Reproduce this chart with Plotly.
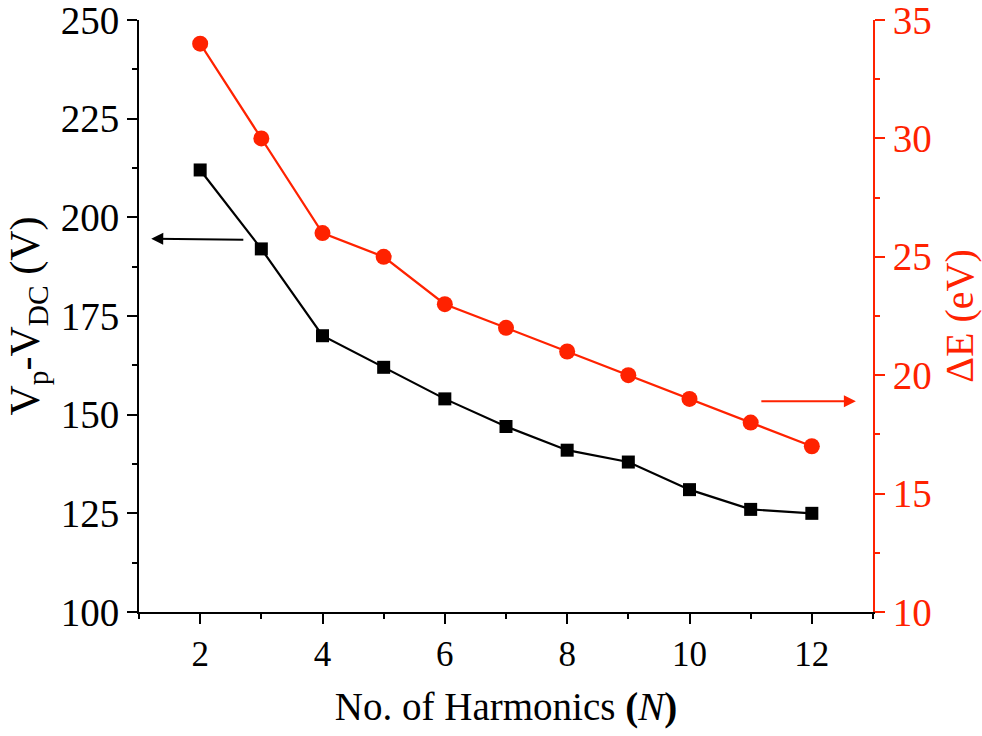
import plotly.graph_objects as go

harmonics = [2, 3, 4, 5, 6, 7, 8, 9, 10, 11, 12]
vp_vdc = [212, 192, 170, 162, 154, 147, 141, 138, 131, 126, 125]
delta_e = [34, 30, 26, 25, 23, 22, 21, 20, 19, 18, 17]

x_ticks = [2, 4, 6, 8, 10, 12]
y_left_ticks = [100, 125, 150, 175, 200, 225, 250]
y_right_ticks = [10, 15, 20, 25, 30, 35]

RED = "#ff2200"
FONT = "Liberation Serif"

fig = go.Figure()
fig.add_trace(go.Scatter(
    x=harmonics, y=vp_vdc, mode="lines+markers",
    line=dict(color="black", width=2.2),
    marker=dict(symbol="square", size=13, color="black"),
    yaxis="y", showlegend=False))
fig.add_trace(go.Scatter(
    x=harmonics, y=delta_e, mode="lines+markers",
    line=dict(color=RED, width=2.2),
    marker=dict(symbol="circle", size=16, color=RED),
    yaxis="y2", showlegend=False))

# arrows pointing to each axis
fig.add_annotation(x=1.2, y=194.6, ax=2.73, ay=194.3, xref="x", yref="y",
                   axref="x", ayref="y", showarrow=True, text="",
                   arrowhead=2, arrowsize=1.2, arrowwidth=2, arrowcolor="black")
fig.add_annotation(x=12.72, y=18.9, ax=11.15, ay=18.9, xref="x", yref="y2",
                   axref="x", ayref="y2", showarrow=True, text="",
                   arrowhead=2, arrowsize=1.2, arrowwidth=2, arrowcolor=RED)

fig.update_layout(
    width=982, height=736,
    margin=dict(l=139, r=109, t=20, b=124, autoexpand=False),
    paper_bgcolor="white", plot_bgcolor="white",
    font=dict(family=FONT, color="black"),
    xaxis=dict(
        range=[1, 13], tickvals=x_ticks, showgrid=False, zeroline=False, automargin=False,
        showline=True, linecolor="black", linewidth=2,
        ticks="outside", ticklen=10, tickwidth=2, tickcolor="black",
        minor=dict(dtick=1, tick0=1, ticks="outside", ticklen=5, tickwidth=2, tickcolor="black"),
        tickfont=dict(size=35, family=FONT),
        title=dict(text="No. of Harmonics <b>(</b><i>N</i><b>)</b>", font=dict(size=39, family=FONT), standoff=20),
    ),
    yaxis=dict(
        range=[100, 250], tickvals=y_left_ticks, showgrid=False, zeroline=False, automargin=False,
        showline=True, linecolor="black", linewidth=2,
        ticks="outside", ticklen=10, tickwidth=2, tickcolor="black",
        minor=dict(dtick=12.5, tick0=100, ticks="outside", ticklen=5, tickwidth=2, tickcolor="black"),
        tickfont=dict(size=39, family=FONT), ticklabeloverflow="allow",
        title=dict(text="V<sub>p</sub>-V<sub>DC</sub> (V)", font=dict(size=42, family=FONT), standoff=8),
    ),
    yaxis2=dict(
        range=[10, 35], tickvals=y_right_ticks, overlaying="y", side="right", automargin=False,
        showgrid=False, zeroline=False,
        showline=True, linecolor=RED, linewidth=2,
        ticks="outside", ticklen=10, tickwidth=2, tickcolor=RED,
        minor=dict(dtick=2.5, tick0=10, ticks="outside", ticklen=5, tickwidth=2, tickcolor=RED),
        tickfont=dict(size=39, family=FONT, color=RED), ticklabeloverflow="allow",
        title=dict(text="ΔE (eV)", font=dict(size=40, family=FONT, color=RED), standoff=14),
    ),
)

fig.write_html("out.html")
